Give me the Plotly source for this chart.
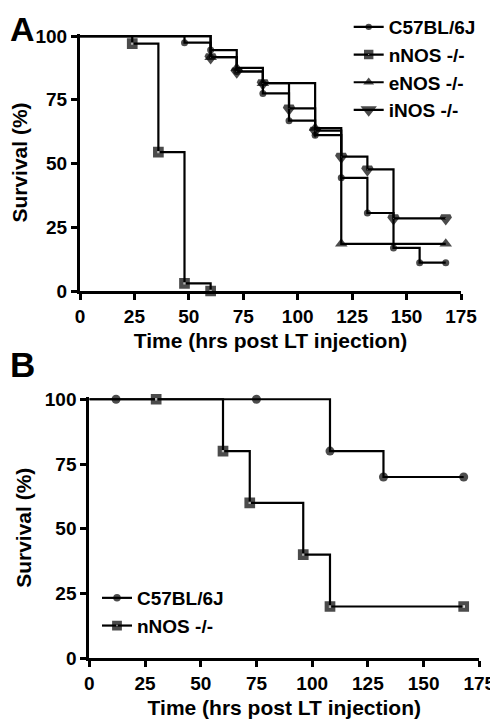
import plotly.graph_objects as go

# ---------------- Panel A data ----------------
A_c57_t = [0, 48, 60, 72, 84, 96, 108, 120, 132, 144, 156, 168]
A_c57_s = [100, 97.4, 94.5, 86.1, 77.5, 66.8, 61.1, 44.4, 30.6, 16.9, 11.1, 11.1]
A_nnos_t = [0, 24, 36, 48, 60]
A_nnos_s = [100, 97, 54.5, 3, 0]
A_enos_t = [0, 60, 72, 84, 108, 120, 168]
A_enos_s = [100, 91.7, 87.5, 81.5, 63.9, 18.5, 18.5]
A_inos_t = [0, 60, 72, 84, 96, 108, 120, 132, 144, 168]
A_inos_s = [100, 91.7, 86.1, 81.5, 71.6, 62.9, 52.7, 47.7, 28.5, 28.5]

# ---------------- Panel B data ----------------
B_c57_t = [0, 12, 75, 108, 132, 168]
B_c57_s = [100, 100, 100, 80, 70, 70]
B_nnos_t = [0, 30, 60, 72, 96, 108, 168]
B_nnos_s = [100, 100, 80, 60, 40, 20, 20]

x_ticks = [0, 25, 50, 75, 100, 125, 150, 175]
y_ticks = [0, 25, 50, 75, 100]

FONT = "Liberation Sans"
W, H = 490, 715   # page body has an 8px margin


def sizes(n, s):
    return [0] + [s] * (n - 1)


fig = go.Figure()


def add(t, s, name, symbol, msize, xa, ya, legend, fill="black", mlw=0):
    fig.add_trace(go.Scatter(
        x=t, y=s, name=name, mode="lines+markers",
        line=dict(shape="hv", color="black", width=2.2),
        marker=dict(symbol=symbol, size=sizes(len(t), msize), color=fill,
                    line=dict(width=mlw, color="#000000")),
        xaxis=xa, yaxis=ya, legend=legend, cliponaxis=False,
    ))


add(A_c57_t, A_c57_s, "C57BL/6J", "circle", 7, "x", "y", "legend")
add(A_nnos_t, A_nnos_s, "nNOS -/-", "square", 6.5, "x", "y", "legend", fill="white", mlw=4.2)
add(A_enos_t, A_enos_s, "eNOS -/-", "triangle-up", 11, "x", "y", "legend")
add(A_inos_t, A_inos_s, "iNOS -/-", "triangle-down", 8, "x", "y", "legend", fill="white", mlw=4)

add(B_c57_t, B_c57_s, "C57BL/6J", "circle", 9, "x2", "y2", "legend2")
add(B_nnos_t, B_nnos_s, "nNOS -/-", "square", 6.5, "x2", "y2", "legend2", fill="white", mlw=4.2)

tickfont = dict(family=FONT, size=19, color="black", weight="bold")
titlefont = dict(family=FONT, size=21, color="black", weight="bold")
legfont = dict(family=FONT, size=19, color="black", weight="bold")

axis_common = dict(
    showline=True, linewidth=3, linecolor="black", mirror=False,
    ticks="outside", ticklen=6, tickwidth=3, tickcolor="black",
    showgrid=False, zeroline=False, tickfont=tickfont, automargin=False,
)


def fy(page_y):
    return (H - (page_y - 8)) / H


def fx(page_x):
    return (page_x - 8) / W


fig.update_layout(
    width=W, height=H,
    margin=dict(l=0, r=0, t=0, b=0),
    paper_bgcolor="white", plot_bgcolor="white",
    font=dict(family=FONT, color="black", weight="bold"),
    xaxis=dict(domain=[fx(80), fx(461)], range=[0, 175], tickvals=x_ticks,
               anchor="y", title=dict(text="Time (hrs post LT injection)", font=titlefont, standoff=8),
               **axis_common),
    yaxis=dict(domain=[fy(291), fy(34)], range=[0, 100.8], tickvals=y_ticks,
               anchor="x", title=dict(text="Survival (%)", font=titlefont, standoff=8),
               **axis_common),
    xaxis2=dict(domain=[fx(89.3), fx(479.3)], range=[0, 175], tickvals=x_ticks,
                anchor="y2", title=dict(text="Time (hrs post LT injection)", font=titlefont, standoff=8),
                **axis_common),
    yaxis2=dict(domain=[fy(658.3), fy(397.2)], range=[0, 100.8], tickvals=y_ticks,
                anchor="x2", title=dict(text="Survival (%)", font=titlefont, standoff=8),
                **axis_common),
    legend=dict(x=fx(348.7), y=1, xanchor="left", yanchor="top",
                font=legfont, bgcolor="rgba(0,0,0,0)", borderwidth=0),
    legend2=dict(x=fx(97), y=fy(579), xanchor="left", yanchor="top",
                 font=legfont, bgcolor="rgba(0,0,0,0)", borderwidth=0),
    annotations=[
        dict(text="A", x=0, y=1, xref="paper", yref="paper",
             showarrow=False, xanchor="left", yanchor="top",
             font=dict(family=FONT, size=34, color="black", weight="bold")),
        dict(text="B", x=0, y=fy(364.5), xref="paper", yref="paper",
             showarrow=False, xanchor="left", yanchor="middle",
             font=dict(family=FONT, size=35, color="black", weight="bold")),
    ],
)

fig.write_html("out.html")
